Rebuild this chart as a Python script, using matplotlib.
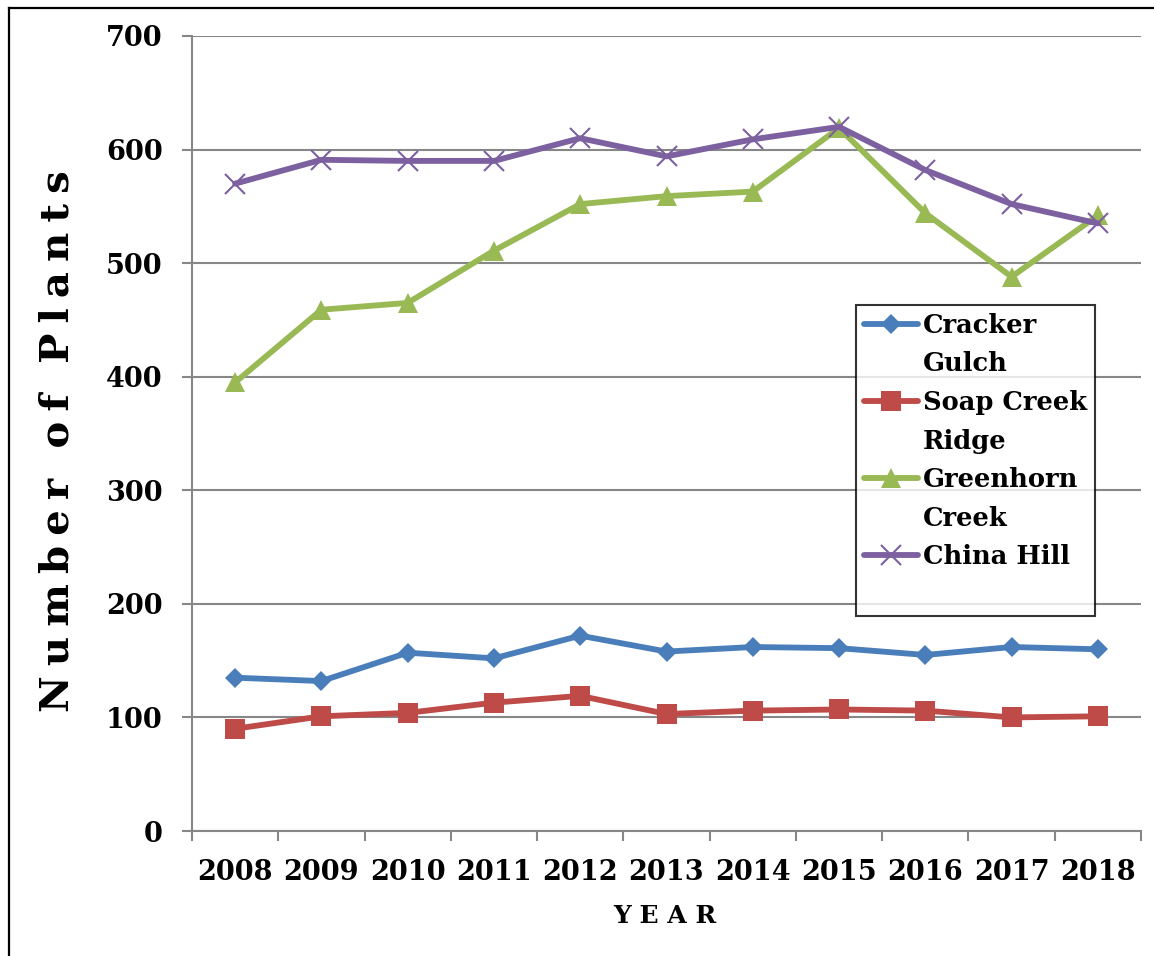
import matplotlib
matplotlib.use("Agg")
import matplotlib.pyplot as plt
from matplotlib.lines import Line2D
import numpy as np

years = ["2008", "2009", "2010", "2011", "2012", "2013", "2014", "2015", "2016", "2017", "2018"]
cracker_gulch = [135, 132, 157, 152, 172, 158, 162, 161, 155, 162, 160]
soap_creek_ridge = [90, 101, 104, 113, 119, 103, 106, 107, 106, 100, 101]
greenhorn_creek = [395, 459, 465, 511, 552, 559, 563, 619, 544, 488, 542]
china_hill = [570, 591, 590, 590, 610, 594, 609, 620, 582, 552, 535]
series_names = ["Cracker\nGulch", "Soap Creek\nRidge", "Greenhorn\nCreek", "China Hill"]
y_ticks = [0, 100, 200, 300, 400, 500, 600, 700]

plt.rcParams['font.family'] = ['DejaVu Serif', 'DejaVu Sans']
plt.rcParams['font.weight'] = 'bold'

fig = plt.figure(figsize=(11.54, 9.56), dpi=100)
ax = fig.add_axes([192/1154, 1-831/956, (1141-192)/1154, (831-36)/956])

grid_c = "#878787"
x = np.arange(len(years))

styles = [
    (cracker_gulch, "#4A7EBB", "D", 10, None),
    (soap_creek_ridge, "#BE4B48", "s", 14, None),
    (greenhorn_creek, "#98B954", "^", 14, None),
    (china_hill, "#7D60A0", "x", 14, 1.5),
]
handles = []
for (vals, col, mk, ms, mew), name in zip(styles, series_names):
    kw = dict(color=col, lw=4.2, marker=mk, markersize=ms, markerfacecolor=col,
              markeredgecolor=col, solid_capstyle='round', solid_joinstyle='round')
    kw['markeredgewidth'] = mew if mew else 0
    h, = ax.plot(x, vals, label=name, **kw)
    handles.append(h)

ax.set_xlim(-0.5, len(years) - 0.5)
ax.set_ylim(0, 700)
ax.set_yticks(y_ticks)
ax.set_yticklabels([str(v) for v in y_ticks], fontsize=19.5, fontweight='bold')
ax.yaxis.grid(True, color=grid_c, lw=1.5)
ax.set_axisbelow(True)

ax.set_xticks(np.arange(-0.5, len(years), 1.0))
ax.set_xticklabels([])
ax.set_xticks(x, minor=True)
ax.set_xticklabels(years, minor=True, fontsize=19.5, fontweight='bold')
ax.tick_params(axis='x', which='major', length=7, width=1.5, color=grid_c, direction='out')
ax.tick_params(axis='x', which='minor', length=0, pad=20)
ax.tick_params(axis='y', length=7, width=1.5, color=grid_c, direction='out', pad=14)

for s in ['top', 'right']:
    ax.spines[s].set_visible(False)
for s in ['left', 'bottom']:
    ax.spines[s].set_color(grid_c)
    ax.spines[s].set_linewidth(1.5)

# legend: handle aligned with the first line of each (wrapped) label
leg_handles, leg_labels = [], []
for h, name in zip(handles, series_names):
    lines = name.split("\n")
    leg_handles.append(h)
    leg_labels.append(lines[0])
    for extra in lines[1:]:
        leg_handles.append(Line2D([], [], color='none'))
        leg_labels.append(extra)
leg_handles.append(Line2D([], [], color='none'))
leg_labels.append(" ")

leg = ax.legend(leg_handles, leg_labels, loc='upper left',
                bbox_to_anchor=((856-192)/(1141-192), (831-305)/(831-36)),
                frameon=True, fancybox=False, edgecolor='black',
                handlelength=2.1, handletextpad=0.2, labelspacing=0.53,
                borderpad=0.3, borderaxespad=0, prop={'weight': 'bold', 'size': 18.5})
leg.get_frame().set_linewidth(1.5)

sp = "\u2005"
ylabel = (sp * 3).join(sp.join(w) for w in ["Number", "of", "Plants"])
fig.text(58/1154, 1-441/956, ylabel, rotation=90,
         ha='center', va='center', fontsize=29, fontweight='bold')
fig.text(665/1154, 1-916/956, "Y E A R", ha='center', va='center',
         fontsize=18, fontweight='bold')

fig.add_artist(Line2D([9/1154, 9/1154], [0, 1-7.5/956], transform=fig.transFigure,
                      color='black', lw=1.6))
fig.add_artist(Line2D([9/1154, 1], [1-7.5/956, 1-7.5/956], transform=fig.transFigure,
                      color='black', lw=1.6))

fig.savefig("out.png", dpi=100)
